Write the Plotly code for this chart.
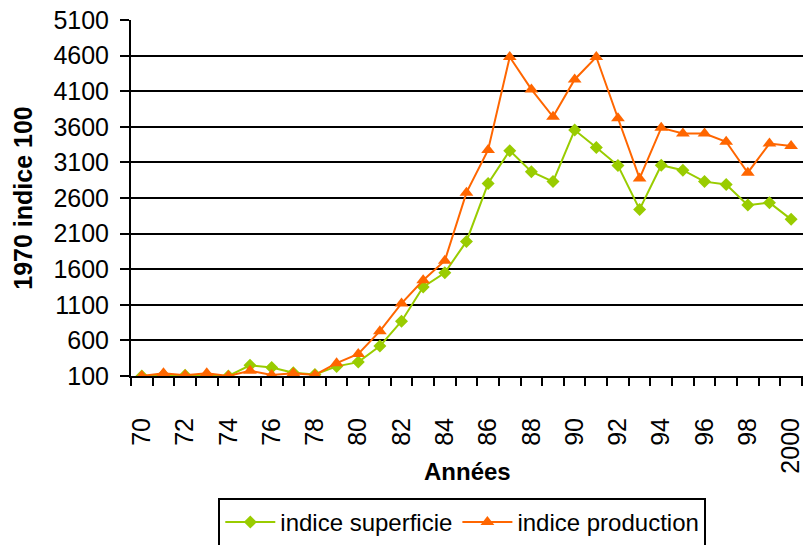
import plotly.graph_objects as go

years = ["70", "71", "72", "73", "74", "75", "76", "77", "78", "79", "80", "81", "82", "83", "84",
         "85", "86", "87", "88", "89", "90", "91", "92", "93", "94", "95", "96", "97", "98", "99", "2000"]
superficie = [100, 115, 110, 105, 100, 250, 220, 145, 120, 235, 295, 520, 870, 1350, 1550,
              1990, 2805, 3265, 2970, 2830, 3555, 3310, 3055, 2440, 3060, 2990, 2830, 2790, 2500, 2535, 2300]
production = [100, 140, 110, 140, 100, 175, 115, 140, 115, 280, 410, 730, 1120, 1445, 1720,
              2675, 3275, 4580, 4125, 3740, 4265, 4580, 3720, 2875, 3585, 3505, 3505, 3390, 2955, 3365, 3330]
y_ticks = [100, 600, 1100, 1600, 2100, 2600, 3100, 3600, 4100, 4600, 5100]

idx = list(range(len(years)))
label_idx = idx[::2]
label_txt = [years[i] for i in label_idx]
boundaries = [i - 0.5 for i in range(len(years) + 1)]
x_range = [-0.5, 30.55]

FONT = "Liberation Sans, Arial, sans-serif"

fig = go.Figure()
fig.add_trace(go.Scatter(
    x=idx, y=superficie, name="indice superficie", mode="lines+markers",
    line=dict(color="#99CC00", width=2),
    marker=dict(symbol="diamond", size=10, color="#99CC00"),
    xaxis="x", yaxis="y",
))
fig.add_trace(go.Scatter(
    x=idx, y=production, name="indice production", mode="lines+markers",
    line=dict(color="#FF6600", width=2),
    marker=dict(symbol="triangle-up", size=12, color="#FF6600"),
    xaxis="x2", yaxis="y",
))

fig.update_layout(
    width=803, height=545,
    margin=dict(l=131, r=0, t=20, b=169, autoexpand=False),
    paper_bgcolor="white", plot_bgcolor="white",
    font=dict(family=FONT, size=24, color="black"),
    showlegend=True,
    legend=dict(
        orientation="h", x=0.493, xanchor="center", y=-0.3427, yanchor="top",
        bordercolor="black", borderwidth=2, bgcolor="white",
        font=dict(family=FONT, size=24, color="black"),
        itemwidth=50,
    ),
    xaxis=dict(
        range=x_range, automargin=False,
        tickmode="array", tickvals=label_idx, ticktext=label_txt,
        tickangle=-90, ticks="", ticklabelstandoff=30, ticklabeloverflow="allow",
        tickfont=dict(family=FONT, size=25, color="black"),
        showgrid=False, zeroline=False,
        showline=True, linecolor="black", linewidth=2,
    ),
    xaxis2=dict(
        overlaying="x", anchor="y", side="bottom", matches="x", automargin=False,
        range=x_range,
        tickmode="array", tickvals=boundaries, ticktext=[""] * len(boundaries),
        ticks="outside", ticklen=9, tickwidth=2, tickcolor="black",
        showgrid=False, zeroline=False, showline=False,
    ),
    yaxis=dict(
        range=[100, 5100], automargin=False,
        tickmode="array", tickvals=y_ticks, ticktext=[str(v) for v in y_ticks],
        ticks="outside", ticklen=9, tickwidth=2, tickcolor="black", ticklabelstandoff=6,
        tickfont=dict(family=FONT, size=25, color="black"),
        showgrid=True, gridcolor="black", gridwidth=2,
        zeroline=False,
        showline=True, linecolor="black", linewidth=2,
        title=dict(text="<b>1970 indice 100</b>", font=dict(family=FONT, size=25, color="black"), standoff=14),
    ),
    annotations=[dict(
        text="<b>Années</b>", xref="paper", yref="paper", x=0.5, y=-0.2669,
        xanchor="center", yanchor="middle", showarrow=False,
        font=dict(family=FONT, size=24, color="black"),
    )],
)

fig.write_html("out.html", config={"displayModeBar": False},
               post_script="document.body.style.margin='0';")
